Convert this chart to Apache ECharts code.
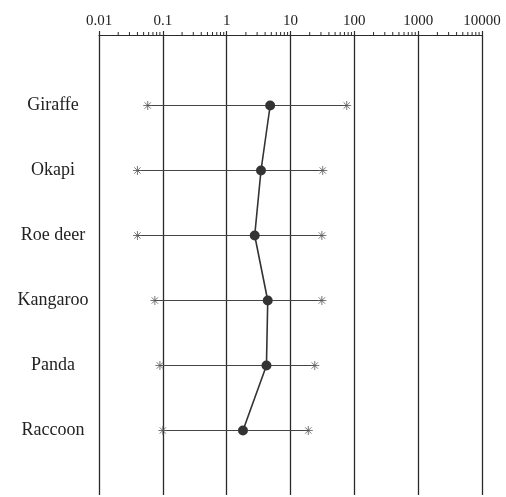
<!DOCTYPE html>
<html>
<head>
<meta charset="utf-8">
<script src="https://cdn.jsdelivr.net/npm/echarts@6/dist/echarts.min.js"></script>
<style>html,body{margin:0;padding:0;background:#fff;}#c{width:506px;height:497px;}</style>
</head>
<body>
<div id="c"></div>
<script>
const categories = ['Giraffe', 'Okapi', 'Roe deer', 'Kangaroo', 'Panda', 'Raccoon'];
const lowValues  = [0.058, 0.04, 0.04, 0.075, 0.09, 0.1];
const midValues  = [4.8, 3.45, 2.75, 4.4, 4.2, 1.8];
const highValues = [76, 32, 31, 31, 24, 19];
const tickLabels = ['0.01', '0.1', '1', '10', '100', '1000', '10000'];
const minorMultipliers = [2, 3, 4, 5, 6, 7, 8, 9];
const decadeStarts = [0.01, 0.1, 1, 10, 100, 1000];

const minorTicks = [];
decadeStarts.forEach(d => minorMultipliers.forEach(m => minorTicks.push([d * m, 1])));

const serif = 'Liberation Serif, Times New Roman, serif';
const ink = '#2a2a2a';
const asterisk = 'path://M0 5 L10 5 M5 0 L5 10 M1.5 1.5 L8.5 8.5 M8.5 1.5 L1.5 8.5';

const chart = echarts.init(document.getElementById('c'), null, {renderer: 'canvas'});
chart.setOption({
  backgroundColor: '#fff',
  animation: false,
  grid: [
    {left: 99, right: 24, top: 35, bottom: 2},
    {left: 99, right: 24, top: 73, height: 390}
  ],
  xAxis: [
    {
      type: 'log', logBase: 10, min: 0.01, max: 10000, splitNumber: 6,
      position: 'top', gridIndex: 0,
      axisLine: {show: true, onZero: false, lineStyle: {color: ink, width: 1.2}},
      axisTick: {show: true, length: 4, lineStyle: {color: ink, width: 1.2}},
      axisLabel: {
        show: true, margin: 6, fontFamily: serif, fontSize: 15, color: '#222',
        formatter: function (v, i) { return tickLabels[Math.round(Math.log10(v)) + 2]; }
      },
      splitLine: {show: true, lineStyle: {color: ink, width: 1.3}}
    },
    {
      type: 'log', logBase: 10, min: 0.01, max: 10000, gridIndex: 1,
      show: false
    }
  ],
  yAxis: [
    {type: 'value', min: 0, max: 1, gridIndex: 0, show: false},
    {
      type: 'category', data: categories, inverse: true, gridIndex: 1,
      axisLine: {show: false}, axisTick: {show: false}, splitLine: {show: false},
      axisLabel: {margin: 46, align: 'center', fontFamily: serif, fontSize: 18, color: '#222'}
    }
  ],
  series: [
    {
      type: 'custom', xAxisIndex: 0, yAxisIndex: 0, clip: false, silent: true,
      data: minorTicks,
      renderItem: function (params, api) {
        const p = api.coord([api.value(0), api.value(1)]);
        return {type: 'line', shape: {x1: p[0], y1: p[1], x2: p[0], y2: p[1] - 3},
                style: {stroke: ink, lineWidth: 1}};
      }
    },
    {
      type: 'custom', xAxisIndex: 1, yAxisIndex: 1, silent: true, z: 2,
      data: categories.map((c, i) => [lowValues[i], highValues[i], i]),
      renderItem: function (params, api) {
        const a = api.coord([api.value(0), api.value(2)]);
        const b = api.coord([api.value(1), api.value(2)]);
        return {type: 'line', shape: {x1: a[0], y1: a[1], x2: b[0], y2: b[1]},
                style: {stroke: '#444', lineWidth: 1}};
      }
    },
    {
      type: 'scatter', xAxisIndex: 1, yAxisIndex: 1, z: 3,
      symbol: asterisk, symbolSize: 9,
      itemStyle: {color: 'transparent', borderColor: '#555', borderWidth: 1},
      data: categories.map((c, i) => [lowValues[i], c]).concat(categories.map((c, i) => [highValues[i], c]))
    },
    {
      type: 'line', xAxisIndex: 1, yAxisIndex: 1, z: 4,
      data: categories.map((c, i) => [midValues[i], c]),
      symbol: 'circle', symbolSize: 10,
      lineStyle: {color: '#333', width: 1.6},
      itemStyle: {color: '#333'}
    }
  ]
});
</script>
</body>
</html>
